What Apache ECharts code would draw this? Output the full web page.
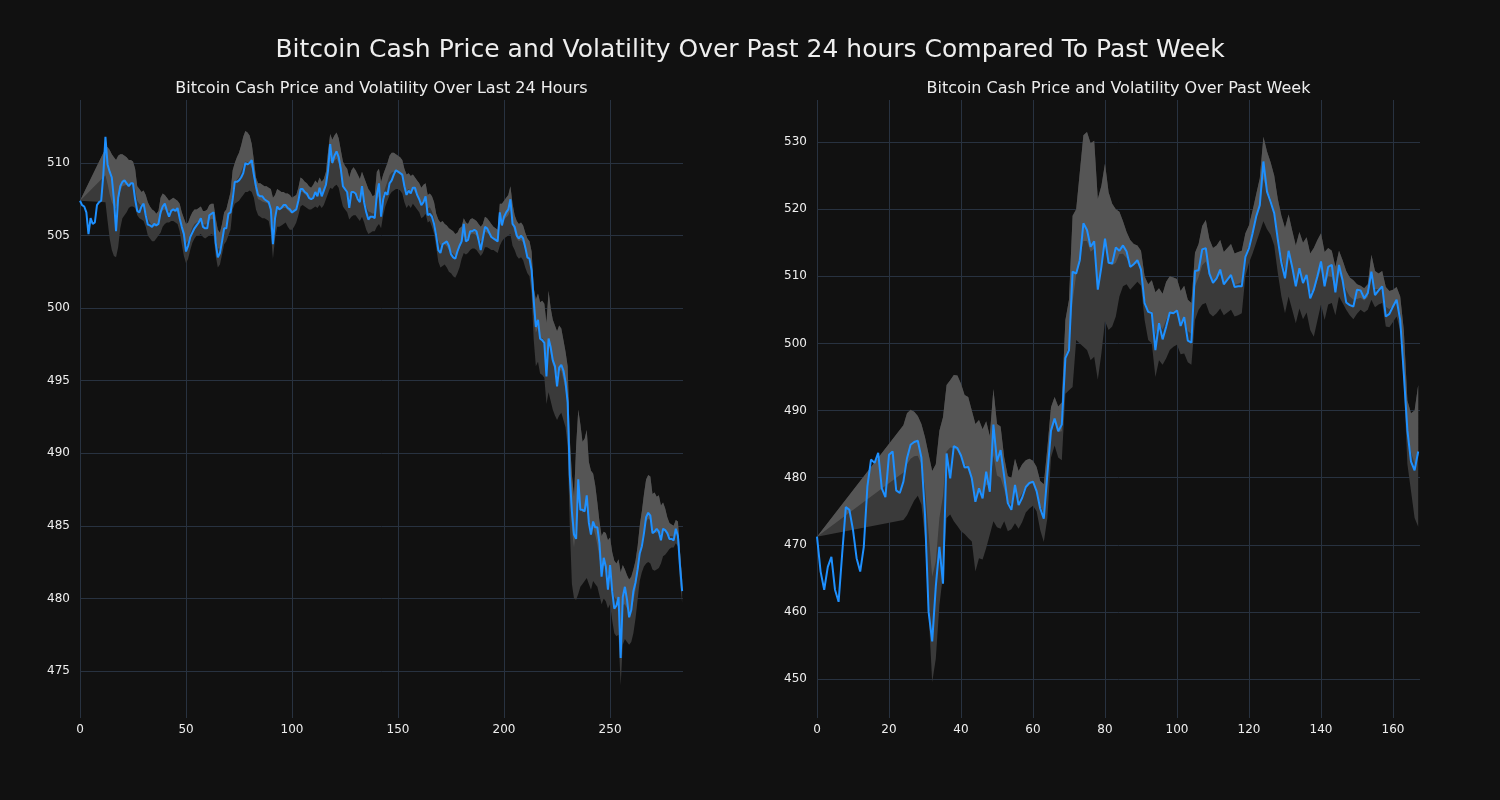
<!DOCTYPE html>
<html>
<head>
<meta charset="utf-8">
<script src="https://cdn.jsdelivr.net/npm/echarts@6/dist/echarts.min.js"></script>
<style>
  html, body { margin: 0; padding: 0; background: #111111; }
  #chart { width: 1500px; height: 800px; }
</style>
</head>
<body>
<div id="chart"></div>
<script>
// ---------- Data ----------
const mainTitle = 'Bitcoin Cash Price and Volatility Over Past 24 hours Compared To Past Week';
const leftTitle = 'Bitcoin Cash Price and Volatility Over Last 24 Hours';
const rightTitle = 'Bitcoin Cash Price and Volatility Over Past Week';

// Last 24 hours (5-minute steps), index 0..284
const dayPrice = [
  507.4, 507.1, 507.0, 506.6, 505.1, 506.2, 505.8, 505.9, 507.1, 507.3,
  507.4, 509.2, 511.8, 509.9, 509.4, 509.0, 507.5, 505.3, 507.6, 508.4,
  508.7, 508.8, 508.6, 508.4, 508.6, 508.6, 507.5, 506.7, 506.6, 507.0,
  507.2, 506.4, 505.75, 505.7, 505.6, 505.8, 505.7, 505.8, 506.6, 507.0,
  507.2, 506.7, 506.3, 506.7, 506.8, 506.7, 506.9, 506.2, 505.6, 505.1,
  503.9, 504.3, 504.9, 505.2, 505.5, 505.7, 505.9, 506.2, 505.6, 505.5,
  505.5, 506.4, 506.5, 506.6, 504.5, 503.5, 503.8, 504.6, 505.5, 505.5,
  506.5, 506.6, 507.5, 508.7, 508.7, 508.8, 509.0, 509.3, 510.0, 509.9,
  510.0, 510.2, 509.2, 508.4, 507.8, 507.7, 507.7, 507.5, 507.4, 507.3,
  506.8, 504.4, 506.2, 507.0, 506.8, 506.9, 507.1, 507.1, 506.9, 506.8,
  506.6, 506.7, 506.8, 507.4, 508.2, 508.2, 508.0, 507.9, 507.6, 507.5,
  507.6, 508.0, 507.7, 508.3, 507.7, 508.1, 508.5, 509.5, 511.3, 510.0,
  510.5, 510.8, 510.4, 509.6, 508.4, 508.2, 508.0, 506.9, 508.0, 508.0,
  507.9, 507.5, 507.3, 508.4, 507.3, 506.6, 506.1, 506.3, 506.3, 506.2,
  507.8, 508.6, 506.3, 507.5, 508.0, 507.8, 508.6, 508.8, 509.2, 509.5,
  509.4, 509.3, 509.2, 508.4, 507.8, 508.1, 507.9, 508.3, 508.3, 507.8,
  507.5, 507.1, 507.3, 507.7, 506.4, 506.5, 506.3, 505.8, 505.0, 504.0,
  503.8, 504.4, 504.5, 504.6, 504.3, 503.7, 503.5, 503.4, 503.9, 504.3,
  504.6, 505.8, 504.6, 504.7, 505.3, 505.3, 505.4, 505.3, 504.7, 504.0,
  504.8, 505.6, 505.5, 505.2, 504.9, 504.8, 504.7, 504.6, 506.6, 505.7,
  506.3, 506.6, 506.8, 507.5, 505.8, 505.6, 505.0, 504.8, 505.0, 504.8,
  504.2, 503.5, 503.4, 502.6, 500.5, 498.7, 499.2, 497.9, 497.8, 497.6,
  495.3, 497.9, 497.3, 496.4, 496.0, 494.6, 495.9, 496.1, 495.7, 494.9,
  493.5, 488.5, 486.0, 484.4, 484.1, 488.2, 486.1, 486.1, 486.0, 487.1,
  485.2, 484.4, 485.3, 484.9, 484.9, 483.8, 481.5, 482.8, 482.2, 480.6,
  482.3, 480.5, 479.3, 479.5, 480.1, 475.9, 480.1, 480.8, 479.9, 478.7,
  479.2, 480.5, 481.1, 482.0, 483.1, 483.6, 484.5, 485.6, 485.9, 485.7,
  484.5, 484.6, 484.8, 484.6, 484.0, 484.8, 484.7, 484.5, 484.1, 484.1,
  484.0, 484.8, 484.3, 482.2, 480.5
];
const dayUpper = [
  507.4, null, null, null, null, null, null, null, null, null,
  null, null, 511.0, 511.1, 510.9, 510.6, 510.4, 510.2, 510.5, 510.6,
  510.6, 510.5, 510.4, 510.2, 510.2, 510.1, 509.6, 508.4, 508.2, 508.0,
  508.1, 507.8, 507.3, 507.0, 506.8, 506.7, 506.5, 506.7, 507.6, 507.9,
  507.8, 507.6, 507.4, 507.5, 507.6, 507.5, 507.4, 507.2, 506.6, 506.2,
  505.8, 505.9, 506.3, 506.6, 506.8, 506.8, 506.9, 507.0, 506.7, 506.7,
  506.8, 507.1, 507.2, 507.2, 506.2, 505.4, 505.2, 505.8, 506.6, 506.8,
  507.4, 508.0, 509.5, 510.0, 510.4, 510.7, 511.2, 511.8, 512.2, 512.1,
  511.9, 511.3, 510.2, 509.0, 508.6, 508.6, 508.5, 508.4, 508.4, 508.3,
  508.2, 507.6, 507.8, 508.2, 508.1, 508.0, 508.0, 507.9, 507.9, 507.8,
  507.6, 507.7, 507.8, 508.3, 509.0, 508.9, 508.7, 508.6, 508.4, 508.3,
  508.5, 508.8, 508.6, 509.0, 508.7, 508.9, 509.4, 510.8, 512.0, 511.6,
  511.9, 512.1, 511.7, 510.9, 510.1, 509.8, 509.6, 509.0, 509.5, 509.7,
  509.5, 509.2, 508.9, 509.4, 509.0, 508.6, 508.2, 508.0, 507.7, 507.8,
  509.4, 509.6, 508.7, 509.2, 509.6, 510.0, 510.5, 510.7, 510.7, 510.6,
  510.5, 510.4, 510.2, 509.6, 509.2, 509.3, 509.1, 509.2, 509.0, 508.8,
  508.6, 508.3, 508.5, 508.6, 507.8, 507.9, 507.7, 507.3, 506.5, 506.1,
  505.9, 506.0, 505.8, 505.7, 505.5, 505.4, 505.3, 505.1, 505.2, 505.5,
  505.6, 506.2, 505.9, 505.8, 506.1, 506.2, 506.1, 506.0, 505.8, 505.6,
  505.8, 506.3, 506.2, 506.0, 505.8, 505.6, 505.5, 505.4, 507.2, 507.2,
  507.4, 507.6, 507.8, 508.4, 507.2, 506.4, 506.0, 505.8, 505.9, 505.7,
  505.2, 504.8, 504.6, 503.9, 501.4, 500.6, 501.0, 500.4, 500.5, 500.3,
  499.0, 501.2, 500.0, 499.2, 498.8, 498.4, 498.8, 498.6, 497.8, 497.0,
  496.0, 491.0, 488.5, 487.0, 490.5, 493.0, 492.0, 490.8, 491.0, 491.6,
  489.4, 488.8, 488.6, 487.8, 486.6, 485.3, 484.3, 484.6, 484.5, 484.0,
  484.2, 483.2, 482.6, 482.4, 482.7, 481.8, 482.3, 482.0, 481.6, 481.3,
  481.5, 482.0, 482.6, 483.6, 485.0, 486.0, 487.2, 488.2, 488.5, 488.4,
  487.2, 487.3, 487.0, 487.1, 486.4, 486.6, 486.2, 485.6, 485.2, 485.1,
  485.0, 485.4, 485.3, 483.2, 481.3
];
const dayLower = [
  507.4, null, null, null, null, null, null, null, null, null,
  null, null, 507.3, 506.0, 504.8, 504.0, 503.6, 503.5, 504.2, 505.5,
  506.2, 506.4, 506.6, 506.9, 507.0, 507.0, 506.9, 506.4, 506.2, 506.1,
  506.0, 505.6, 505.0, 504.8, 504.6, 504.6, 504.8, 505.0, 505.2, 505.6,
  505.8, 505.9, 505.9, 506.0, 506.0, 505.9, 505.8, 505.3, 504.4, 503.6,
  503.1, 503.4, 504.0, 504.5, 504.8, 505.0, 505.0, 505.1, 504.9, 504.8,
  504.9, 505.0, 505.1, 505.0, 503.6, 502.8, 503.0, 503.7, 504.4, 504.6,
  505.0, 505.4, 506.8, 507.2, 507.3, 507.4, 507.6, 507.8, 508.0, 508.0,
  508.1, 508.0, 507.6, 506.8, 506.4, 506.3, 506.2, 506.2, 506.1, 506.0,
  505.2, 503.4, 504.8, 505.6, 505.6, 505.7, 505.8, 505.9, 505.6, 505.4,
  505.4, 505.6, 505.9, 506.4, 507.0, 507.1, 507.0, 506.9, 506.8, 506.8,
  506.9, 507.0, 506.9, 507.1, 506.9, 507.1, 507.5, 507.9, 508.3, 508.2,
  508.4, 508.5, 508.3, 507.6, 507.0, 506.8, 506.6, 506.1, 506.3, 506.4,
  506.4, 506.2, 506.0, 506.3, 505.9, 505.4, 505.1, 505.2, 505.3, 505.3,
  505.6, 505.8, 505.5, 506.4, 507.0, 507.4, 507.8, 508.0, 508.1, 508.2,
  508.2, 508.1, 507.9, 507.3, 506.9, 507.1, 506.9, 507.2, 507.0, 506.8,
  506.6, 506.2, 506.3, 506.5, 505.9, 506.0, 505.6, 505.1, 504.2, 503.2,
  502.8, 502.9, 503.0, 502.8, 502.5, 502.4, 502.2, 502.1, 502.4, 502.8,
  503.4, 503.8, 503.7, 503.8, 504.0, 504.1, 504.1, 504.0, 503.8, 503.6,
  503.8, 504.2, 504.2, 504.1, 504.0, 504.0, 503.9, 503.8, 504.3, 504.6,
  504.8, 504.9, 505.0, 505.1, 504.3, 504.0, 503.6, 503.4, 503.5, 503.3,
  502.8, 502.4, 502.2, 501.0, 497.8, 496.0, 496.3, 495.5, 495.4, 495.2,
  493.4, 494.2, 493.6, 493.0, 492.6, 492.3, 492.6, 492.8, 492.3, 491.8,
  490.5, 485.0, 481.0, 480.0, 479.9, 480.3, 480.8, 481.0, 481.2, 481.4,
  481.0, 480.6, 481.2, 481.0, 480.8, 480.2, 479.6, 480.0, 479.8, 479.3,
  479.6, 478.5, 477.6, 477.4, 477.5, 474.0, 476.8, 477.2, 477.0, 476.8,
  477.0, 477.6, 478.6, 479.9, 481.2, 481.8, 482.2, 482.4, 482.5, 482.4,
  482.0, 481.9, 482.0, 482.1, 482.4, 482.9, 483.0, 483.2, 483.4, 483.5,
  483.5, 483.8, 483.6, 481.0, 479.7
];

// Past week (hourly), index 0..167
const weekPrice = [
  471.2, 466.0, 463.3, 466.7, 468.2, 463.3, 461.5, 468.7, 475.6, 475.2,
  472.2, 468.0, 466.0, 469.7, 478.7, 482.7, 482.2, 483.7, 478.4, 477.1,
  483.4, 483.9, 478.1, 477.7, 479.4, 482.9, 484.9, 485.3, 485.5, 483.0,
  474.5, 460.0, 455.6, 463.8, 469.7, 464.2, 483.6, 479.9, 484.7, 484.4,
  483.3, 481.5, 481.6, 479.9, 476.4, 478.4, 476.9, 480.9, 477.9, 487.9,
  482.4, 484.1, 480.2, 476.2, 475.2, 478.9, 475.9, 477.0, 478.6, 479.2,
  479.4, 478.0, 475.4, 473.9, 480.6, 487.0, 488.8, 486.9, 487.9, 497.8,
  499.0, 510.7, 510.4, 512.4, 517.9, 516.9, 514.4, 515.2, 508.0, 511.4,
  515.6, 512.0, 511.9, 514.3, 513.8, 514.6, 513.7, 511.4, 511.8, 512.4,
  511.0, 506.0, 504.7, 504.5, 499.0, 503.0, 500.6, 502.5, 504.6, 504.5,
  504.9, 502.6, 503.9, 500.4, 500.1, 510.8, 510.9, 514.0, 514.2, 510.4,
  509.0, 509.7, 511.0, 508.8, 509.5, 510.2, 508.4, 508.5, 508.5, 512.9,
  514.2, 516.4, 518.9, 520.6, 527.1, 522.6, 521.1, 519.4, 515.5, 512.0,
  509.7, 513.8, 511.4, 508.5, 511.2, 509.0, 510.2, 506.7, 508.0, 510.0,
  512.2, 508.5, 511.4, 511.7, 507.6, 511.7, 509.4, 506.1, 505.7, 505.5,
  508.0, 507.9, 506.7, 507.5, 510.7, 507.2, 507.9, 508.5, 504.0, 504.4,
  505.5, 506.5, 503.5, 495.5, 487.0, 482.4, 481.1, 483.9
];
const weekUpper = [
  471.2, null, null, null, null, null, null, null, null, null,
  null, null, null, null, null, null, null, null, null, null,
  null, null, null, null, 487.8, 489.6, 490.1, 489.8, 489.2, 488.0,
  486.0, 483.5, 481.0, 482.0, 487.0, 489.0, 493.8, 494.5, 495.3, 495.2,
  494.0, 492.3, 492.0, 490.0, 488.0, 488.6, 487.2, 488.4, 486.2, 493.2,
  488.0, 487.6, 483.0, 480.2, 480.0, 482.8, 481.0, 482.0, 482.6, 482.8,
  482.5, 481.6, 479.5, 479.0, 484.5, 490.5, 492.0, 490.6, 491.2, 503.5,
  506.5, 519.0, 520.0, 525.5, 531.0, 531.5, 529.8, 530.2, 521.5, 523.5,
  526.8, 522.5, 520.8, 520.0, 519.6, 518.2, 516.6, 515.4, 514.8, 514.6,
  513.8, 510.0, 508.8, 509.4, 507.6, 508.2, 507.4, 509.2, 510.0, 509.8,
  509.6, 507.8, 508.6, 506.5, 506.0, 513.5, 514.8, 517.5, 518.4, 515.5,
  514.2, 514.6, 515.4, 513.6, 514.2, 514.8, 513.4, 513.6, 513.8, 516.4,
  517.6, 519.8, 522.2, 524.6, 530.8, 528.6, 527.0, 525.0, 521.5, 519.0,
  517.2, 519.2, 516.8, 514.6, 516.6, 515.0, 515.8, 513.4, 514.2, 515.4,
  516.4, 513.6, 514.2, 513.8, 511.4, 513.8, 512.4, 510.8, 509.8, 509.4,
  508.8, 508.6, 508.2, 508.8, 513.2, 510.8, 510.4, 510.8, 508.4, 507.8,
  508.0, 508.4, 507.0, 502.0, 491.5, 489.6, 490.0, 493.8
];
const weekLower = [
  471.2, null, null, null, null, null, null, null, null, null,
  null, null, null, null, null, null, null, null, null, null,
  null, null, null, null, 473.7, 474.4, 475.5, 476.6, 477.3, 476.0,
  471.0, 460.0, 449.5, 453.0, 461.0, 465.5, 474.0, 474.5, 473.5, 472.8,
  472.0, 471.6, 471.0, 470.5, 466.0, 468.0, 467.8, 469.5, 471.5, 473.5,
  472.6, 472.4, 473.5, 472.0, 472.3, 473.2, 472.4, 473.4, 474.8, 475.4,
  475.8, 475.0, 472.2, 470.4, 474.0, 483.0, 484.8, 483.0, 482.6, 492.5,
  493.0, 493.5, 500.5, 500.0, 499.5, 499.0, 497.5, 498.0, 494.6, 498.5,
  503.3, 502.0, 502.5, 504.0, 507.0, 508.5, 508.8, 508.0, 508.6, 509.2,
  508.6, 503.5, 500.5, 500.0, 495.0, 497.5, 496.8, 497.8, 499.0, 499.5,
  499.8, 498.4, 498.5, 497.2, 496.8, 503.5, 505.0, 505.8, 506.0, 504.5,
  504.0, 504.5, 505.2, 504.2, 504.6, 505.0, 504.0, 504.2, 504.5, 510.0,
  512.0, 513.4, 515.0, 516.6, 518.2, 517.0, 516.2, 514.6, 510.5, 507.0,
  504.5, 507.0, 505.0, 503.0, 505.2, 503.6, 504.6, 502.0, 501.0, 503.4,
  505.8, 503.5, 505.8, 506.0, 504.2, 507.0, 506.0, 505.0, 504.2, 503.6,
  504.4, 505.0, 504.6, 505.0, 506.5, 505.4, 505.8, 506.0, 502.5, 502.4,
  503.2, 504.0, 502.0, 494.0, 482.0, 478.0, 474.0, 472.7
];

// ---------- Styling ----------
const BG = '#111111';
const GRID = '#283240';
const TEXT = '#eeeeee';
const LINE = '#1e90ff';
const BAND_DARK = '#3a3a3a';
const BAND_LIGHT = '#555555';
const FONT = 'DejaVu Sans';

function bandSeries(upper, lower, axisIdx) {
  return {
    type: 'custom',
    xAxisIndex: axisIdx,
    yAxisIndex: axisIdx,
    clip: true,
    silent: true,
    z: 1,
    encode: { x: 0, y: [1, 2] },
    data: upper.map((u, i) => [i, u == null ? '-' : u, lower[i] == null ? '-' : lower[i]]),
    renderItem(params, api) {
      if (params.dataIndex !== 0) return null;
      const idx = [];
      for (let i = 0; i < upper.length; i++) {
        if (upper[i] != null && lower[i] != null) idx.push(i);
      }
      const U = idx.map(i => api.coord([i, upper[i]]));
      const L = idx.map(i => api.coord([i, lower[i]]));
      const M = idx.map(i => api.coord([i, (upper[i] + lower[i]) / 2]));
      return {
        type: 'group',
        children: [
          { type: 'polygon', shape: { points: U.concat(L.slice().reverse()) }, style: { fill: BAND_DARK } },
          { type: 'polygon', shape: { points: U.concat(M.slice().reverse()) }, style: { fill: BAND_LIGHT } }
        ]
      };
    }
  };
}

function lineSeries(values, axisIdx) {
  return {
    type: 'line',
    xAxisIndex: axisIdx,
    yAxisIndex: axisIdx,
    data: values.map((v, i) => [i, v]),
    showSymbol: false,
    symbol: 'none',
    z: 3,
    lineStyle: { color: LINE, width: 2 },
    itemStyle: { color: LINE }
  };
}

function xAxis(gridIndex, max, interval) {
  return {
    type: 'value', gridIndex, min: 0, max, interval,
    axisLine: { show: false },
    axisTick: { show: false },
    axisLabel: { color: TEXT, fontFamily: FONT, fontSize: 12, margin: 6, showMaxLabel: false },
    splitLine: { show: true, showMinLine: true, showMaxLine: false, lineStyle: { color: GRID, width: 1 } }
  };
}

function yAxis(gridIndex, min, max, splitNumber) {
  return {
    type: 'value', gridIndex, min, max, splitNumber, scale: true,
    axisLine: { show: false },
    axisTick: { show: false },
    axisLabel: { color: TEXT, fontFamily: FONT, fontSize: 12, margin: 10, showMinLabel: false, showMaxLabel: false },
    splitLine: { show: true, showMinLine: false, showMaxLine: false, lineStyle: { color: GRID, width: 1 } }
  };
}

const chart = echarts.init(document.getElementById('chart'), null, { renderer: 'canvas' });
chart.setOption({
  backgroundColor: BG,
  animation: false,
  title: [
    { text: mainTitle, left: 750, top: 36, textAlign: 'center', padding: 0,
      textStyle: { color: TEXT, fontFamily: FONT, fontSize: 25, fontWeight: 'normal', lineHeight: 28 } },
    { text: leftTitle, left: 381.5, top: 80, textAlign: 'center', padding: 0,
      textStyle: { color: TEXT, fontFamily: FONT, fontSize: 16, fontWeight: 'normal', lineHeight: 18 } },
    { text: rightTitle, left: 1118.5, top: 80, textAlign: 'center', padding: 0,
      textStyle: { color: TEXT, fontFamily: FONT, fontSize: 16, fontWeight: 'normal', lineHeight: 18 } }
  ],
  grid: [
    { left: 80, top: 100, width: 603, height: 618, containLabel: false },
    { left: 817, top: 100, width: 603, height: 618, containLabel: false }
  ],
  xAxis: [xAxis(0, 284.4, 50), xAxis(1, 167.5, 20)],
  yAxis: [yAxis(0, 471.76, 514.34, 8), yAxis(1, 444.19, 536.26, 9)],
  series: [
    bandSeries(dayUpper, dayLower, 0),
    lineSeries(dayPrice, 0),
    bandSeries(weekUpper, weekLower, 1),
    lineSeries(weekPrice, 1)
  ]
});
</script>
</body>
</html>
